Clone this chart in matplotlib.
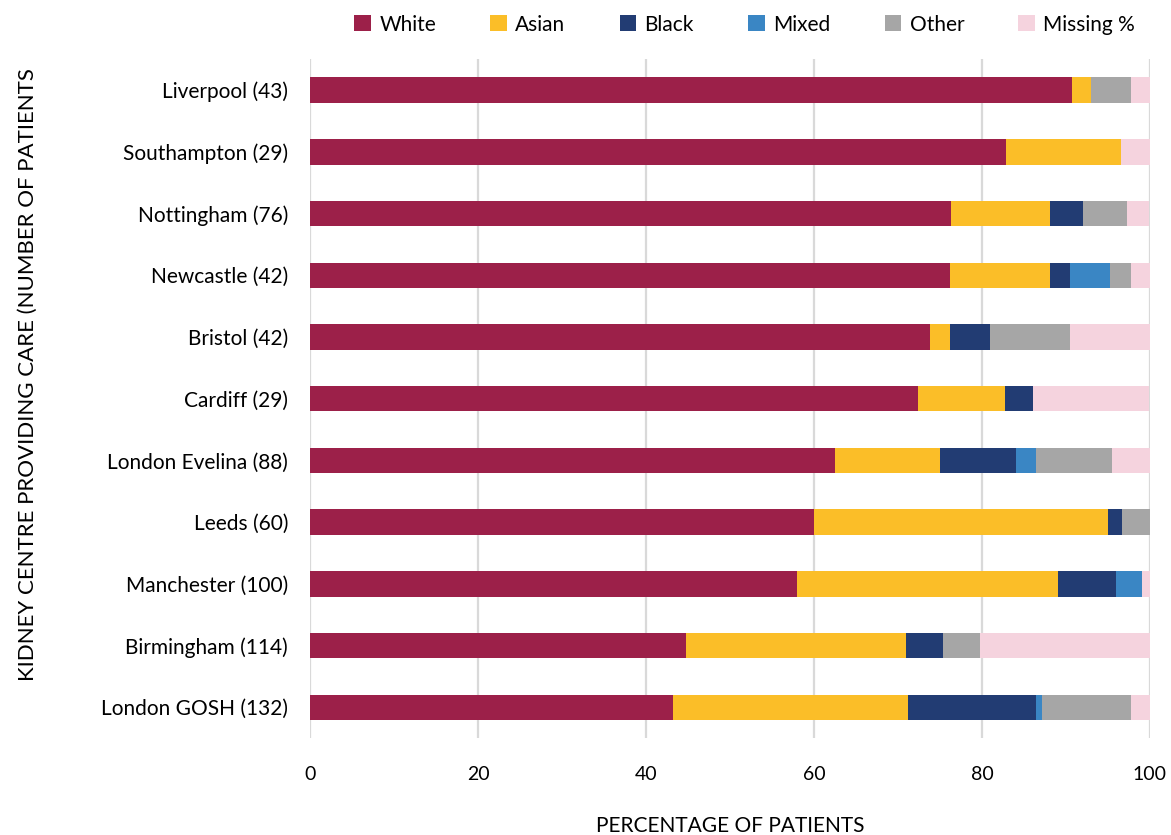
import matplotlib.pyplot as plt
import numpy as np

plt.rcParams['font.family'] = ['Lato', 'DejaVu Sans']

# centres, bottom to top
centres = ['London GOSH (132)', 'Birmingham (114)', 'Manchester (100)', 'Leeds (60)',
           'London Evelina (88)', 'Cardiff (29)', 'Bristol (42)', 'Newcastle (42)',
           'Nottingham (76)', 'Southampton (29)', 'Liverpool (43)']

white = [43.2, 44.7, 58.0, 60.0, 62.5, 72.4, 73.8, 76.2, 76.3, 82.8, 90.7]
asian = [28.0, 26.3, 31.0, 35.0, 12.5, 10.3, 2.4, 11.9, 11.8, 13.8, 2.3]
black = [15.2, 4.4, 7.0, 1.7, 9.1, 3.4, 4.8, 2.4, 3.9, 0, 0]
mixed = [0.8, 0, 3.0, 0, 2.3, 0, 0, 4.8, 0, 0, 0]
other = [10.6, 4.4, 0, 3.3, 9.1, 0, 9.5, 2.4, 5.3, 0, 4.7]
missing = [2.3, 20.2, 1.0, 0, 4.5, 13.8, 9.5, 2.4, 2.6, 3.4, 2.3]

series = [('White', white, '#9C2049'), ('Asian', asian, '#FBBE28'),
          ('Black', black, '#223C73'), ('Mixed', mixed, '#3A86C4'),
          ('Other', other, '#A6A6A6'), ('Missing %', missing, '#F5D3DE')]

fig = plt.figure(figsize=(11.71, 8.35), dpi=100)
ax = fig.add_axes([0.265, 0.116, 0.717, 0.813])

y = np.arange(len(centres))
left = np.zeros(len(centres))
for name, vals, col in series:
    ax.barh(y, vals, left=left, height=0.41, color=col, label=name, zorder=3)
    left += np.array(vals)

ax.set_xlim(0, 100)
ax.set_ylim(-0.5, len(centres) - 0.5)
ax.set_yticks(y)
ax.set_yticklabels(centres, fontsize=15)
ax.set_xticks([0, 20, 40, 60, 80, 100])
ax.tick_params(axis='x', labelsize=14, length=0, pad=20)
ax.tick_params(axis='y', length=0, pad=16)
ax.grid(axis='x', color='#D9D9D9', linewidth=1.6, zorder=0)
for s in ax.spines.values():
    s.set_visible(False)

ax.set_xlabel('PERCENTAGE OF PATIENTS', fontsize=15, labelpad=24)
fig.text(0.024, 0.551, 'KIDNEY CENTRE PROVIDING CARE (NUMBER OF PATIENTS',
         rotation=90, fontsize=16, ha='center', va='center')

fig.legend(loc='upper center', bbox_to_anchor=(0.636, 1.005), ncol=6, frameon=False,
           fontsize=15, handlelength=0.8, handleheight=0.8, columnspacing=2.6,
           handletextpad=0.4)

fig.savefig('out.png', dpi=100)
